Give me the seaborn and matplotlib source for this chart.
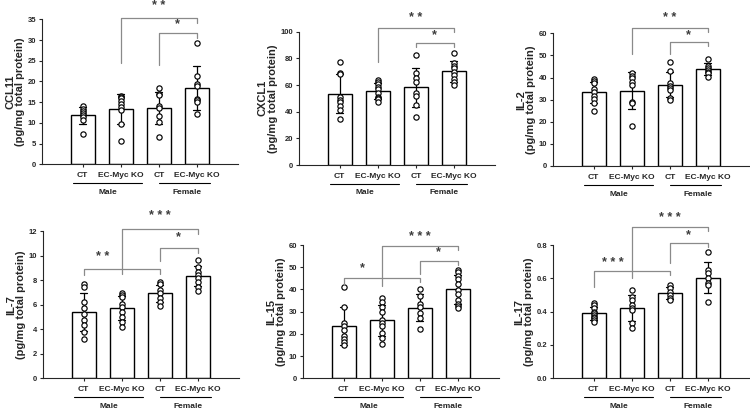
import matplotlib
matplotlib.use("Agg")
import matplotlib.pyplot as plt
import matplotlib.transforms as mtransforms
import numpy as np
import pandas as pd
import seaborn as sns

# ---------------- data ----------------
GROUPS = ["Male CT", "Male EC-Myc KO", "Female CT", "Female EC-Myc KO"]
TICK_LABELS = ["CT", "EC-Myc KO", "CT", "EC-Myc KO"]
SEXES = ["Male", "Female"]

CCL11_CT_M = [14.1, 13.4, 12.8, 12.4, 12.0, 11.4, 10.8, 7.4]
CCL11_KO_M = [16.6, 16.2, 15.9, 15.3, 14.5, 13.8, 13.1, 9.7, 5.7]
CCL11_CT_F = [18.3, 17.0, 16.8, 14.1, 13.7, 11.7, 10.2, 6.7]
CCL11_KO_F = [29.2, 21.4, 19.5, 18.8, 15.7, 15.4, 15.0, 12.2]

CXCL1_CT_M = [77.3, 69.3, 68.0, 51.3, 48.8, 47.0, 44.0, 41.0, 34.5]
CXCL1_KO_M = [63.5, 62.5, 60.5, 58.8, 56.8, 54.3, 51.3, 50.0, 49.5, 47.5]
CXCL1_CT_F = [82.8, 68.8, 65.0, 62.5, 53.8, 51.8, 45.0, 36.3]
CXCL1_KO_F = [84.3, 76.3, 74.3, 72.5, 70.0, 67.5, 64.5, 62.0, 60.0]

IL2_CT_M = [39.4, 38.6, 37.7, 35.0, 33.5, 31.7, 30.2, 28.4, 25.0]
IL2_KO_M = [41.9, 40.9, 39.7, 38.2, 36.7, 29.1, 28.4, 18.1]
IL2_CT_F = [46.9, 43.0, 37.4, 36.3, 35.4, 34.4, 30.9, 29.9]
IL2_KO_F = [48.4, 45.4, 44.5, 43.4, 42.7, 41.9, 40.1]

IL7_CT_M = [7.66, 7.45, 6.2, 5.7, 5.2, 4.75, 4.35, 3.8, 3.18]
IL7_KO_M = [6.93, 6.8, 6.66, 6.03, 5.84, 5.38, 5.03, 4.62, 4.2]
IL7_CT_F = [7.83, 7.66, 7.2, 6.93, 6.58, 6.25, 5.92]
IL7_KO_F = [9.65, 9.1, 8.7, 8.42, 8.15, 7.88, 7.47, 7.15]

IL15_CT_M = [41.2, 32.0, 25.0, 23.4, 21.6, 19.2, 17.7, 16.2, 15.0]
IL15_KO_M = [36.0, 34.2, 31.9, 29.7, 26.3, 24.7, 23.7, 20.5, 18.0, 15.6]
IL15_CT_F = [40.2, 37.2, 33.3, 32.3, 29.6, 27.0, 22.2]
IL15_KO_F = [48.7, 47.7, 46.2, 44.7, 42.3, 39.8, 37.8, 35.3, 33.3, 32.5, 31.5]

IL17_CT_M = [0.45, 0.44, 0.42, 0.40, 0.39, 0.38, 0.37, 0.36, 0.35, 0.34]
IL17_KO_M = [0.53, 0.49, 0.47, 0.44, 0.42, 0.41, 0.33, 0.30]
IL17_CT_F = [0.56, 0.54, 0.52, 0.50, 0.48, 0.47]
IL17_KO_F = [0.76, 0.65, 0.63, 0.60, 0.57, 0.56, 0.46]

# significance brackets: (x1, x2, y, left-leg bottom, label, text x, text y)
CCL11_SIG = [(1, 3, 35.2, 24.4, "* *", 2.0, 38.2), (2, 3, 31.6, 24.0, "*", 2.5, 33.9)]
CXCL1_SIG = [(1, 3, 103, 77.5, "* *", 2.0, 110), (2, 3, 91.75, 88.5, "*", 2.5, 97.5)]
IL2_SIG = [(1, 3, 62.6, 50.5, "* *", 2.0, 66.8), (2, 3, 56.0, 50.5, "*", 2.5, 59.3)]
IL7_SIG = [(1, 3, 12.15, 8.48, "* * *", 2.0, 13.2), (2, 3, 10.6, 9.57, "*", 2.5, 11.47),
           (0, 2, 8.89, 8.42, "* *", 0.5, 9.92)]
IL15_SIG = [(1, 3, 59.5, 41.5, "* * *", 2.0, 63.7), (2, 3, 52.8, 46.8, "*", 2.5, 56.7),
            (0, 2, 45.0, 42.0, "*", 0.5, 49.5)]
IL17_SIG = [(1, 3, 0.91, 0.60, "* * *", 2.0, 0.96), (2, 3, 0.81, 0.69, "*", 2.5, 0.86),
            (0, 2, 0.644, 0.55, "* * *", 0.5, 0.694)]

PANELS = [
    ("CCL11", [CCL11_CT_M, CCL11_KO_M, CCL11_CT_F, CCL11_KO_F], 35, 5, "{:.0f}", CCL11_SIG),
    ("CXCL1", [CXCL1_CT_M, CXCL1_KO_M, CXCL1_CT_F, CXCL1_KO_F], 100, 20, "{:.0f}", CXCL1_SIG),
    ("IL-2", [IL2_CT_M, IL2_KO_M, IL2_CT_F, IL2_KO_F], 60, 10, "{:.0f}", IL2_SIG),
    ("IL-7", [IL7_CT_M, IL7_KO_M, IL7_CT_F, IL7_KO_F], 12, 2, "{:.0f}", IL7_SIG),
    ("IL-15", [IL15_CT_M, IL15_KO_M, IL15_CT_F, IL15_KO_F], 60, 10, "{:.0f}", IL15_SIG),
    ("IL-17", [IL17_CT_M, IL17_KO_M, IL17_CT_F, IL17_KO_F], 0.8, 0.2, "{:.1f}", IL17_SIG),
]

# ---------------- layout ----------------
W, H = 750, 411
AX_PX = [  # left, top, width, bottom (pixels)
    (42, 19.3, 196, 164.3),
    (299, 31.7, 196, 165.0),
    (553, 33.3, 196, 166.0),
    (43, 231.0, 196, 378.3),
    (303, 245.0, 196, 378.3),
    (553, 245.0, 196, 378.3),
]

sns.set_style("ticks")
plt.rcParams["font.family"] = ["Liberation Sans", "DejaVu Sans"]
plt.rcParams["font.weight"] = "bold"

fig = plt.figure(figsize=(W / 100, H / 100), dpi=100)

LINE_GRAY = "#8a8a8a"
STAR_GRAY = "#3c3c3c"

for (name, groups, ymax, step, fmt, sig), (l, t, w, b) in zip(PANELS, AX_PX):
    ax = fig.add_axes([l / W, (H - b) / H, w / W, (b - t) / H])
    df = pd.DataFrame({
        "group": np.concatenate([[g] * len(v) for g, v in zip(GROUPS, groups)]),
        "value": np.concatenate(groups),
    })
    sns.barplot(data=df, x="group", y="value", order=GROUPS, errorbar="sd",
                color="white", edgecolor="black", linewidth=1.0, width=0.63,
                capsize=0.18, err_kws={"color": "black", "linewidth": 0.9},
                saturation=1, ax=ax)
    sns.stripplot(data=df, x="group", y="value", order=GROUPS, jitter=False,
                  color="white", edgecolor="black", linewidth=0.85, size=3.8, ax=ax)
    ax.set_xlim(-1.07, 4.08)
    ax.set_ylim(0, ymax)
    yt = np.arange(0, ymax + step / 2, step)
    ax.set_yticks(yt)
    ax.set_yticklabels([fmt.format(v) for v in yt], fontsize=5.5, fontweight="bold")
    ax.set_xticks(range(4))
    ax.set_xticklabels(TICK_LABELS, fontsize=6, fontweight="bold")
    ax.tick_params(axis="x", length=2, width=0.8, pad=3.5)
    ax.tick_params(axis="y", length=2.5, width=0.8, pad=1.5)
    ax.set_xlabel("")
    ax.set_ylabel(name + "\n(pg/mg total protein)", fontsize=8, fontweight="bold",
                  labelpad=2, linespacing=1.0)
    for s in ("left", "bottom"):
        ax.spines[s].set_linewidth(0.8)
    sns.despine(ax=ax)

    # sex group underline + label
    tr_line = mtransforms.offset_copy(ax.get_xaxis_transform(), fig=fig, y=-19, units="dots")
    tr_text = mtransforms.offset_copy(ax.get_xaxis_transform(), fig=fig, y=-28, units="dots")
    for (x0, x1, xt), lab in zip([(-0.25, 1.55, 0.65), (2.0, 3.35, 2.75)], SEXES):
        ax.plot([x0, x1], [0, 0], color="black", lw=0.8, transform=tr_line, clip_on=False)
        ax.text(xt, 0, lab, transform=tr_text, ha="center", va="center",
                fontsize=6, fontweight="bold")

    # significance brackets
    leg = ymax * 0.03
    for x1, x2, y, lb, lab, tx, ty in sig:
        ax.plot([x1, x1, x2, x2], [lb, y, y, y - leg], color=LINE_GRAY, lw=0.9,
                clip_on=False, zorder=3)
        ax.text(tx, ty, lab, ha="center", va="center", fontsize=9, fontweight="bold",
                color=STAR_GRAY, clip_on=False)

fig.savefig("out.png", dpi=100)
